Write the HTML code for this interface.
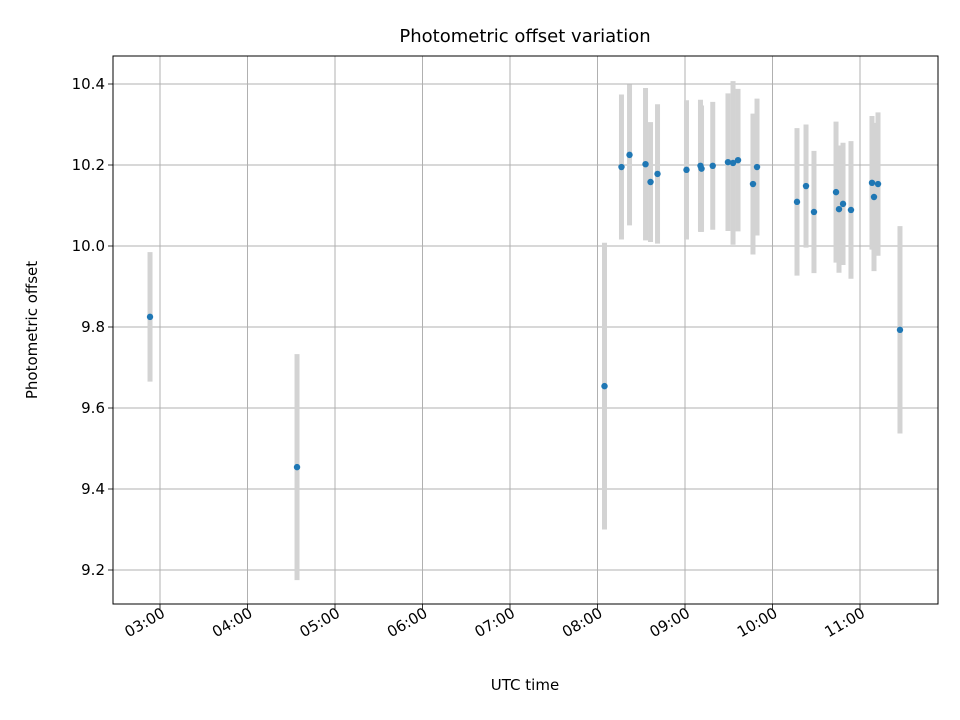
<!DOCTYPE html>
<html><head><meta charset="utf-8"><style>body{margin:0;background:#fff}svg{display:block;font-family:"DejaVu Sans","Liberation Sans",sans-serif}</style></head>
<body>
<svg id="chart" width="960" height="720"></svg>
<script>
const times=[2.886,4.566,8.08,8.274,8.366,8.549,8.606,8.686,9.017,9.177,9.189,9.317,9.491,9.549,9.606,9.777,9.823,10.28,10.383,10.474,10.726,10.76,10.806,10.897,11.137,11.16,11.206,11.457];
const values=[9.825,9.454,9.654,10.195,10.225,10.202,10.158,10.178,10.188,10.198,10.191,10.198,10.207,10.205,10.212,10.153,10.195,10.109,10.148,10.084,10.133,10.091,10.104,10.089,10.156,10.121,10.153,9.793];
const errors=[0.160,0.279,0.354,0.179,0.174,0.188,0.148,0.172,0.172,0.163,0.156,0.158,0.170,0.202,0.176,0.174,0.169,0.182,0.152,0.151,0.174,0.157,0.151,0.170,0.165,0.183,0.177,0.256];
const xTicks=[3,4,5,6,7,8,9,10,11];
const xTickLabels=["03:00","04:00","05:00","06:00","07:00","08:00","09:00","10:00","11:00"];
const yTicks=[9.2,9.4,9.6,9.8,10.0,10.2,10.4];
const yTickLabels=["9.2","9.4","9.6","9.8","10.0","10.2","10.4"];
const L=113,R=938,T=56,B=604;
const sx=h=>160+(h-3)*87.5;
const sy=v=>84+(10.4-v)*405;
const svg=document.getElementById('chart');
const NS='http://www.w3.org/2000/svg';
function mk(tag,attrs,parent){const e=document.createElementNS(NS,tag);for(const k in attrs)e.setAttribute(k,attrs[k]);(parent||svg).appendChild(e);return e;}
const grid=mk('g',{});


xTicks.forEach((t,i)=>{const x=sx(t);
 mk('line',{x1:x,x2:x,y1:T,y2:B,stroke:'#b0b0b0','stroke-width':1},grid);
 mk('line',{x1:x,x2:x,y1:B,y2:B+5,stroke:'#000','stroke-width':0.8});
 const tx=mk('text',{x:x+6,y:B+12,'font-size':15,'text-anchor':'end',transform:`rotate(-30 ${x+6} ${B+12})`});
 tx.textContent=xTickLabels[i];
 
 
});
yTicks.forEach((t,i)=>{const y=sy(t);
 mk('line',{x1:L,x2:R,y1:y,y2:y,stroke:'#b0b0b0','stroke-width':1},grid);
 mk('line',{x1:L-5,x2:L,y1:y,y2:y,stroke:'#000','stroke-width':0.8});
 const tx=mk('text',{x:L-8,y:y+5,'font-size':15,'text-anchor':'end'});
 tx.textContent=yTickLabels[i];
 
 
});
times.forEach((t,i)=>{const x=sx(t);
 const e=mk('line',{x1:x,x2:x,y1:sy(values[i]+errors[i]),y2:sy(values[i]-errors[i]),stroke:'#d3d3d3','stroke-width':5});
 
 
});
times.forEach((t,i)=>{
 const c=mk('circle',{cx:sx(t),cy:sy(values[i]),r:3.2,fill:'#1f77b4'});
 
 
});
const fr=mk('rect',{x:L,y:T,width:R-L,height:B-T,fill:'none',stroke:'#000','stroke-width':1,'shape-rendering':'crispEdges'});


const ti=mk('text',{x:525,y:42,'font-size':18,'text-anchor':'middle'});ti.textContent='Photometric offset variation';


const xl=mk('text',{x:525,y:690,'font-size':15,'text-anchor':'middle'});xl.textContent='UTC time';


const yl=mk('text',{x:37,y:330,'font-size':15,'text-anchor':'middle',transform:'rotate(-90 37 330)'});yl.textContent='Photometric offset';


</script>
</body></html>
